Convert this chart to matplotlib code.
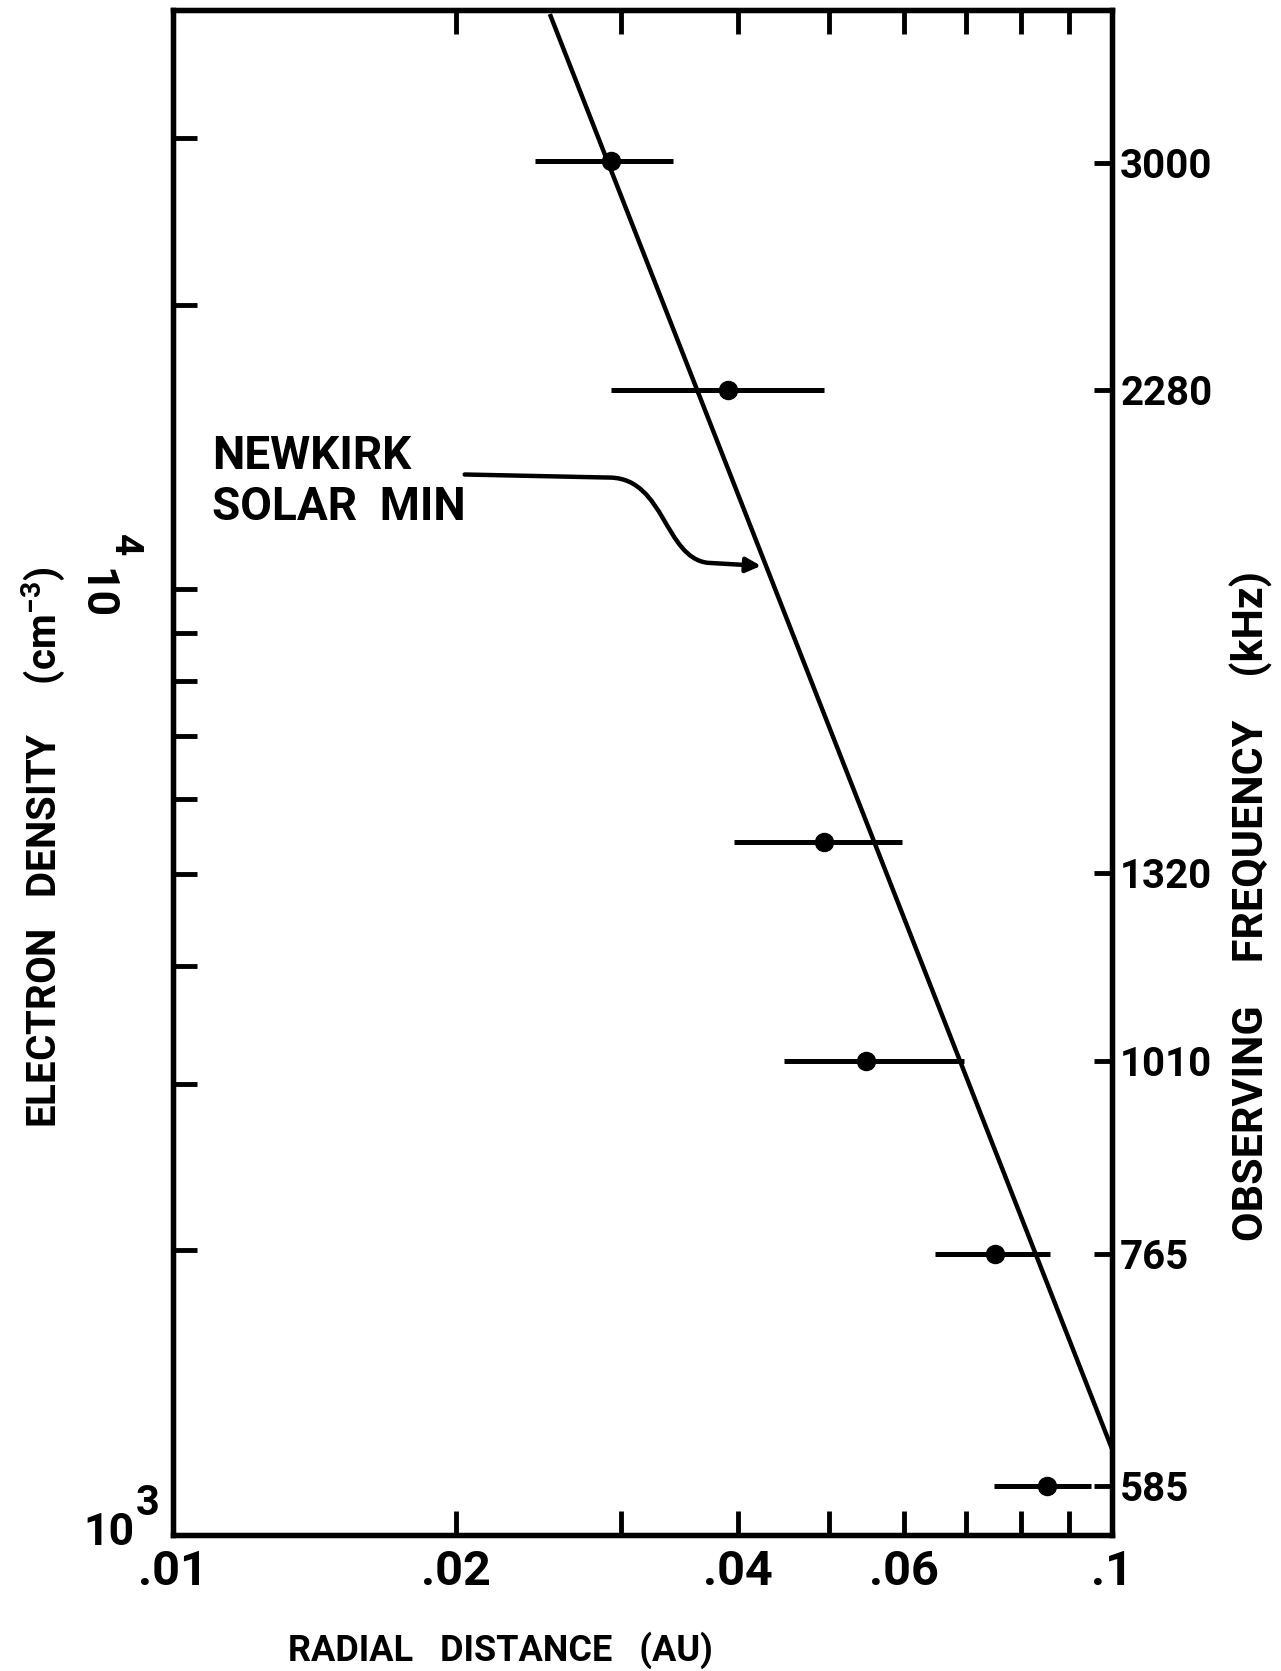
import numpy as np
import matplotlib
matplotlib.use('Agg')
import matplotlib.pyplot as plt
from matplotlib.path import Path
from matplotlib.patches import FancyArrowPatch
from matplotlib.ticker import FixedLocator, NullFormatter, NullLocator

# measured points (radial distance in AU, electron density in cm^-3)
dist = np.array([0.0293, 0.0390, 0.0494, 0.0547, 0.0751, 0.0853])
dist_lo = np.array([0.0243, 0.0293, 0.0396, 0.0447, 0.0648, 0.0748])
dist_hi = np.array([0.0341, 0.0494, 0.0597, 0.0696, 0.0860, 0.0949])
density = np.array([28400, 16240, 5410, 3170, 1980, 1127])

# Newkirk solar-minimum model line
model_dist = [0.0252, 0.1]
model_density = [40600, 1234]

# right-hand axis: observing frequency
freq_labels = ['3000', '2280', '1320', '1010', '765', '585']
freq_density = [28220, 16240, 5017, 3171, 1983, 1127]

x_major = [0.01, 0.02, 0.04, 0.06, 0.1]
x_major_labels = ['.01', '.02', '.04', '.06', '.1']
x_minor = [0.03, 0.05, 0.07, 0.08, 0.09]
y_minor = [2e3, 3e3, 4e3, 5e3, 6e3, 7e3, 8e3, 9e3, 2e4, 3e4]

plt.rcParams['font.family'] = ['Roboto', 'DejaVu Sans']
plt.rcParams['font.weight'] = 'bold'
plt.rcParams['mathtext.fontset'] = 'custom'
plt.rcParams['mathtext.rm'] = 'Roboto:bold'
plt.rcParams['mathtext.it'] = 'Roboto:bold'
plt.rcParams['mathtext.bf'] = 'Roboto:bold'

fig = plt.figure(figsize=(12.81, 16.71), dpi=100)
ax = fig.add_axes([0.135, 0.0814, 0.733, 0.9126])
ax.set_xscale('log')
ax.set_yscale('log')
ax.set_xlim(0.01, 0.1)
ax.set_ylim(1e3, 4.1e4)

# model line and data with horizontal error bars
ax.plot(model_dist, model_density, color='black', lw=3.2, solid_capstyle='butt')
ax.errorbar(dist, density, xerr=[dist - dist_lo, dist_hi - dist], fmt='o',
            color='black', ms=13, elinewidth=3.6, capsize=0)

# ticks
ax.xaxis.set_major_locator(FixedLocator(x_major))
ax.set_xticklabels(x_major_labels)
ax.xaxis.set_minor_locator(FixedLocator(x_minor))
ax.xaxis.set_minor_formatter(NullFormatter())
ax.yaxis.set_major_locator(FixedLocator([1e3, 1e4]))
ax.yaxis.set_minor_locator(FixedLocator(y_minor))
ax.yaxis.set_major_formatter(NullFormatter())
ax.yaxis.set_minor_formatter(NullFormatter())
ax.tick_params(which='both', direction='in', length=17, width=3.5,
               top=True, right=False, labelsize=35, pad=10)
for s in ax.spines.values():
    s.set_linewidth(3.8)

ax2 = ax.twinx()
ax2.set_yscale('log')
ax2.set_ylim(ax.get_ylim())
ax2.yaxis.set_major_locator(FixedLocator(freq_density))
ax2.set_yticklabels(freq_labels)
ax2.yaxis.set_minor_locator(NullLocator())
ax2.tick_params(which='both', direction='in', length=13, width=3.5,
                labelsize=29, pad=6)
for s in ax2.spines.values():
    s.set_linewidth(3.8)

# left tick labels
fig.text(0.085, 0.0826, '10', fontsize=32, ha='center', va='center')
fig.text(0.1155, 0.1005, '3', fontsize=30, ha='center', va='center')
fig.text(0.0745, 0.6445, '10', fontsize=32, rotation=270, ha='center', va='center')
fig.text(0.0975, 0.6735, '4', fontsize=28, rotation=270, ha='center', va='center')

# axis titles
fig.text(0.391, 0.0126, 'RADIAL   DISTANCE   (AU)', fontsize=26,
         ha='center', va='center')
fig.text(0.034, 0.493, r'ELECTRON   DENSITY     (cm$^{-3}$)', fontsize=29,
         rotation=90, ha='center', va='center')
fig.text(0.977, 0.458, 'OBSERVING    FREQUENCY    (kHz)', fontsize=31,
         rotation=90, ha='center', va='center')

# annotation
ax.text(0.01101, 13830, 'NEWKIRK', fontsize=33, ha='left', va='center')
ax.text(0.01101, 12210, 'SOLAR  MIN', fontsize=33, ha='left', va='center')
path = Path([(0.02045, 13230), (0.0293, 13130), (0.0334, 13060), (0.0334, 10810),
             (0.0371, 10670), (0.0423, 10590)],
            [Path.MOVETO, Path.LINETO, Path.CURVE4, Path.CURVE4, Path.CURVE4, Path.LINETO])
ax.add_patch(FancyArrowPatch(path=path, arrowstyle='-|>', mutation_scale=22,
                             color='black', lw=3.2, transform=ax.transData))

fig.savefig('out.png', dpi=100)
